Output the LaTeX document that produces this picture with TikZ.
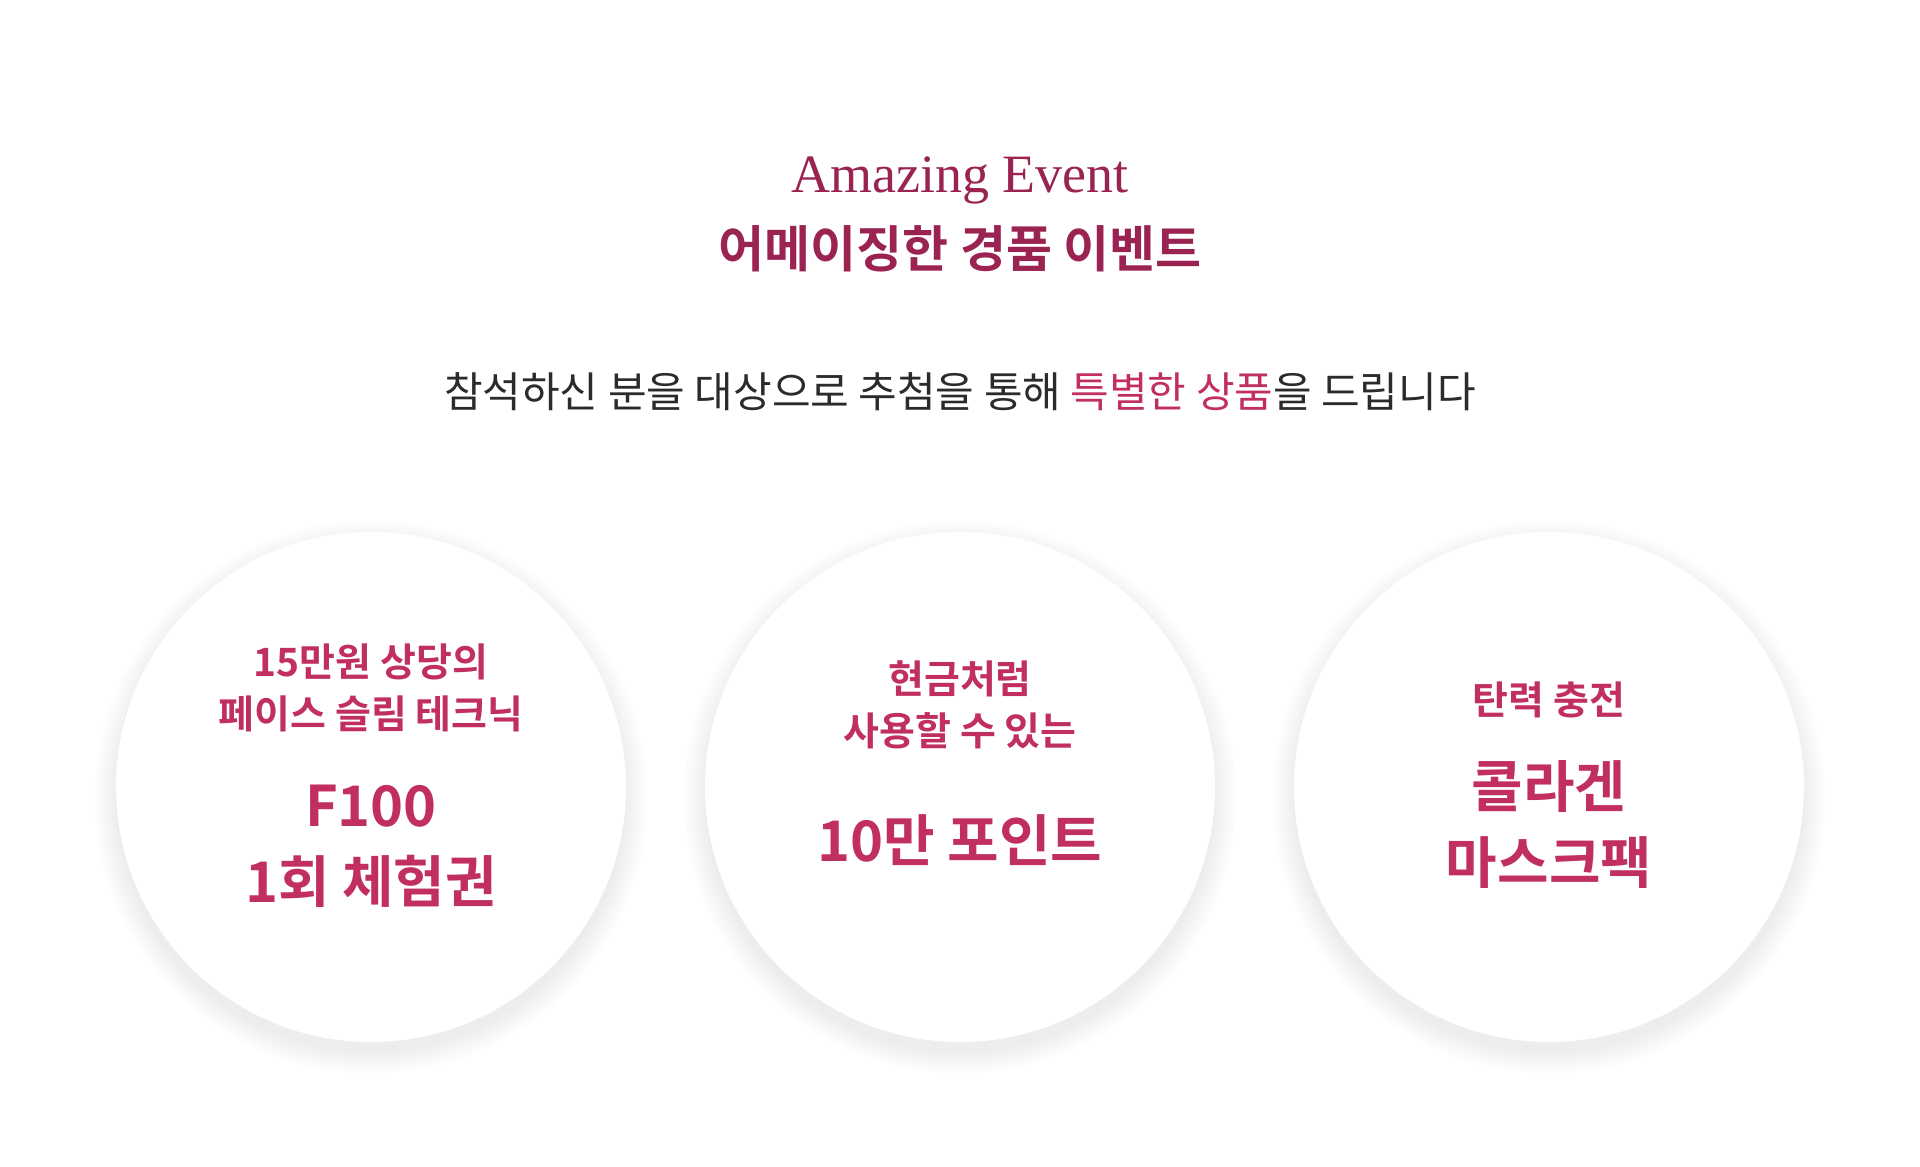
\documentclass[tikz,border=0pt]{standalone}
\usepackage{fontspec}
\usetikzlibrary{positioning}
\newfontfamily\kr{Noto Sans CJK KR}
\newfontfamily\krb{Noto Sans CJK KR Bold}
\setmainfont{Liberation Serif}
\definecolor{wine}{HTML}{9A2352}
\definecolor{rose}{HTML}{C12E62}
\definecolor{ink}{HTML}{2B2B2B}

\begin{document}
\begin{tikzpicture}[
    x=1pt, y=-1pt,
    % Styles
    heading/.style={% English heading
        text=wine,
        font=\fontsize{54}{58}\selectfont,
        },
    title/.style={% Korean title
        text=wine,
        font=\krb\fontsize{50}{54}\selectfont,
        },
    intro/.style={% line under the title
        text=ink,
        font=\kr\fontsize{42}{46}\selectfont,
        },
    prize/.style={% white disc
        circle,
        fill=white,
        minimum size=510pt,
        },
    small/.style={% upper text of a disc
        text=rose,
        align=center,
        font=\krb\fontsize{39}{52}\selectfont,
        },
    big/.style={% lower text of a disc
        text=rose,
        align=center,
        font=\krb\fontsize{56}{76}\selectfont,
        },
    ]
    \useasboundingbox[fill=white] (0,0) rectangle (1920,1167);

    % Heading
    \node[heading] (eng) at (960,180) {Amazing Event};
    \node[title] (kor) at (960,249) {어메이징한 경품 이벤트};
    \node[intro] (sub) at (960,392) {참석하신 분을 대상으로 추첨을 통해 \textcolor{rose}{특별한 상품}을 드립니다};

    % Shadows under the discs
    \foreach \cx in {371,960,1549}{
        \foreach \r in {276,272,...,256}{
            \fill[black, opacity=0.012] (\cx,797) circle (\r);
        }
    }

    % Discs
    \node[prize] (disc1) at (371,787) {};
    \node[prize] (disc2) at (960,787) {};
    \node[prize] (disc3) at (1549,787) {};

    % Disc texts
    \node[small] (top1) at (371,688) {15만원 상당의\\페이스 슬림 테크닉};
    \node[big] (low1) at (371,846) {F100\\1회 체험권};
    \node[small] (top2) at (960,705) {현금처럼\\사용할 수 있는};
    \node[big] (low2) at (960,840) {10만 포인트};
    \node[small] (top3) at (1549,700) {탄력 충전};
    \node[big] (low3) at (1549,824) {콜라겐\\마스크팩};
\end{tikzpicture}
\end{document}
